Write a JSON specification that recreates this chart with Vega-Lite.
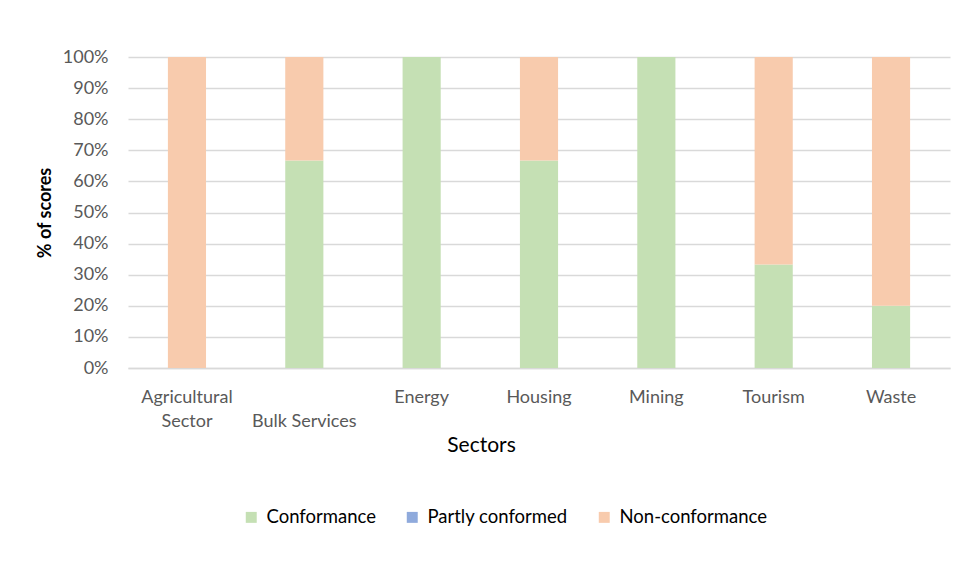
{
  "$schema": "https://vega.github.io/schema/vega-lite/v6.json",
  "width": 822,
  "height": 311,
  "autosize": {"type": "none"},
  "padding": {"left": 128, "top": 57, "right": 13, "bottom": 202},
  "background": "white",
  "config": {
    "font": "Lato",
    "view": {"stroke": null}
  },
  "data": {
    "values": [
      {"Sector": "Agricultural Sector", "Category": "Conformance", "Value": 0},
      {"Sector": "Agricultural Sector", "Category": "Partly conformed", "Value": 0},
      {"Sector": "Agricultural Sector", "Category": "Non-conformance", "Value": 1},
      {"Sector": "Bulk Services", "Category": "Conformance", "Value": 0.667},
      {"Sector": "Bulk Services", "Category": "Partly conformed", "Value": 0},
      {"Sector": "Bulk Services", "Category": "Non-conformance", "Value": 0.333},
      {"Sector": "Energy", "Category": "Conformance", "Value": 1},
      {"Sector": "Energy", "Category": "Partly conformed", "Value": 0},
      {"Sector": "Energy", "Category": "Non-conformance", "Value": 0},
      {"Sector": "Housing", "Category": "Conformance", "Value": 0.667},
      {"Sector": "Housing", "Category": "Partly conformed", "Value": 0},
      {"Sector": "Housing", "Category": "Non-conformance", "Value": 0.333},
      {"Sector": "Mining", "Category": "Conformance", "Value": 1},
      {"Sector": "Mining", "Category": "Partly conformed", "Value": 0},
      {"Sector": "Mining", "Category": "Non-conformance", "Value": 0},
      {"Sector": "Tourism", "Category": "Conformance", "Value": 0.333},
      {"Sector": "Tourism", "Category": "Partly conformed", "Value": 0},
      {"Sector": "Tourism", "Category": "Non-conformance", "Value": 0.667},
      {"Sector": "Waste", "Category": "Conformance", "Value": 0.2},
      {"Sector": "Waste", "Category": "Partly conformed", "Value": 0},
      {"Sector": "Waste", "Category": "Non-conformance", "Value": 0.8}
    ]
  },
  "mark": {"type": "bar"},
  "encoding": {
    "x": {
      "field": "Sector",
      "type": "nominal",
      "sort": null,
      "scale": {"paddingInner": 0.675, "paddingOuter": 0.34},
      "axis": {
        "title": "Sectors",
        "titleFontSize": 21,
        "titleFontWeight": "normal",
        "titleColor": "#000000",
        "titleX": 353,
        "titleY": 77,
        "titleBaseline": "middle",
        "labelAngle": 0,
        "labelFontSize": 18,
        "labelColor": "#595959",
        "labelPadding": 20,
        "labelLineHeight": 24,
        "labelExpr": "datum.value == 'Agricultural Sector' ? ['Agricultural', 'Sector'] : datum.value == 'Bulk Services' ? ['', 'Bulk Services'] : datum.value",
        "ticks": false,
        "domainColor": "#d9d9d9",
        "domainWidth": 1.5,
        "grid": false
      }
    },
    "y": {
      "field": "Value",
      "type": "quantitative",
      "stack": "normalize",
      "scale": {"domain": [0, 1]},
      "axis": {
        "title": "% of scores",
        "titleFontSize": 18,
        "titleFontWeight": "bold",
        "titleColor": "#000000",
        "titlePadding": 8,
        "format": ".0%",
        "values": [0, 0.1, 0.2, 0.3, 0.4, 0.5, 0.6, 0.7, 0.8, 0.9, 1],
        "labelFontSize": 18,
        "labelColor": "#595959",
        "labelPadding": 20,
        "ticks": false,
        "domain": false,
        "gridColor": "#d9d9d9",
        "gridWidth": 1.5
      }
    },
    "order": {"field": "Category", "type": "nominal", "sort": "ascending"},
    "color": {
      "field": "Category",
      "type": "nominal",
      "sort": ["Conformance", "Partly conformed", "Non-conformance"],
      "scale": {
        "domain": ["Conformance", "Partly conformed", "Non-conformance"],
        "range": ["#C5E0B4", "#8FAADC", "#F8CBAD"]
      },
      "legend": {
        "title": null,
        "orient": "none",
        "direction": "horizontal",
        "legendX": 114,
        "legendY": 451,
        "symbolType": "square",
        "symbolSize": 120,
        "symbolStrokeWidth": 0,
        "labelFontSize": 18.5,
        "labelColor": "#000000",
        "columnPadding": 27,
        "labelOffset": 6
      }
    }
  }
}
